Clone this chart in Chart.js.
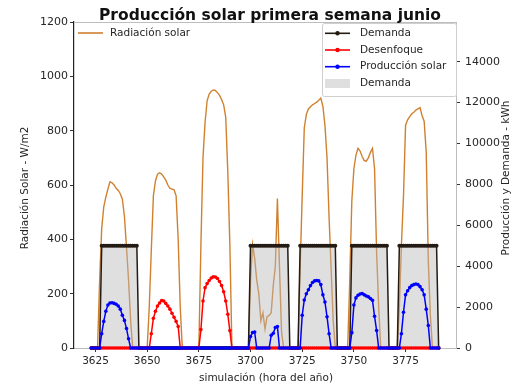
<!DOCTYPE html>
<html lang="es">
<head>
<meta charset="utf-8">
<script src="https://cdn.jsdelivr.net/npm/chart.js@4.4.1/dist/chart.umd.min.js"></script>
<style>
  html, body { margin: 0; padding: 0; background: #ffffff; }
  #wrap { width: 513px; height: 391px; }
</style>
</head>
<body>
<div id="wrap"><canvas id="c" width="513" height="391"></canvas></div>
<script>
// First simulated hour of the week (hour of the year)
const startHour = 3623;

// Solar radiation, W/m2 (one row per day, 24 hourly values)
const radiation = [0,
  0,0,0,250,440,520,555,585,612,608,600,588,580,568,548,484,370,250,100,0,0,0,0,0,
  0,0,0,150,360,560,615,640,645,640,630,618,600,588,585,582,560,400,150,0,0,0,0,0,
  0,0,0,0,380,700,830,910,935,945,950,948,940,930,915,895,850,650,380,0,0,0,0,0,
  0,0,0,0,250,380,330,250,200,100,130,70,115,120,130,230,300,550,300,60,0,0,0,0,
  0,0,0,0,300,560,810,860,880,888,895,900,905,912,920,890,820,700,480,290,100,0,0,0,
  0,0,0,0,250,540,660,710,735,725,705,690,688,700,720,735,660,350,150,0,0,0,0,0,
  0,0,0,0,150,380,560,820,840,852,862,868,876,880,885,855,835,720,320,120,0,0,0,0
];

// Solar production delivered to demand, kWh
const production = [0,
  0,0,0,0,700,1300,1800,2100,2200,2210,2180,2140,2050,1900,1600,1350,950,450,0,0,0,0,0,0,
  0,0,0,0,0,0,0,0,0,0,0,0,0,0,0,0,0,0,0,0,0,0,0,0,
  0,0,0,0,0,0,0,0,0,0,0,0,0,0,0,0,0,0,0,0,0,0,0,0,
  0,0,0,0,560,760,780,0,0,0,0,0,0,0,620,720,1000,1050,0,0,0,0,0,0,
  0,0,0,0,0,1600,2350,2650,2850,3050,3200,3280,3300,3280,3100,2600,2250,1530,700,0,0,0,0,0,
  0,0,0,0,0,750,2100,2450,2580,2640,2660,2600,2540,2500,2420,2330,1550,850,0,0,0,0,0,0,
  0,0,0,0,0,700,1750,2600,2800,2950,3050,3100,3130,3100,3000,2850,2600,1900,1100,0,0,0,0,0
];

// Defocused (unused) production, kWh
const defocus = [0,
  0,0,0,0,0,0,0,0,0,0,0,0,0,0,0,0,0,0,0,0,0,0,0,0,
  0,0,0,0,700,1450,1800,2050,2200,2320,2300,2180,2050,1900,1700,1500,1300,1050,0,0,0,0,0,0,
  0,0,0,0,900,2300,2950,3150,3300,3420,3480,3470,3400,3250,3050,2750,2300,1650,850,0,0,0,0,0,
  0,0,0,0,0,0,0,0,0,0,0,0,0,0,0,0,0,0,0,0,0,0,0,0,
  0,0,0,0,0,0,0,0,0,0,0,0,0,0,0,0,0,0,0,0,0,0,0,0,
  0,0,0,0,0,0,0,0,0,0,0,0,0,0,0,0,0,0,0,0,0,0,0,0,
  0,0,0,0,0,0,0,0,0,0,0,0,0,0,0,0,0,0,0,0,0,0,0,0
];

// Demand, kWh
const demand = [0,
  0,0,0,0,5000,5000,5000,5000,5000,5000,5000,5000,5000,5000,5000,5000,5000,5000,5000,5000,5000,5000,0,0,
  0,0,0,0,0,0,0,0,0,0,0,0,0,0,0,0,0,0,0,0,0,0,0,0,
  0,0,0,0,0,0,0,0,0,0,0,0,0,0,0,0,0,0,0,0,0,0,0,0,
  0,0,0,0,5000,5000,5000,5000,5000,5000,5000,5000,5000,5000,5000,5000,5000,5000,5000,5000,5000,5000,5000,0,
  0,0,0,0,5000,5000,5000,5000,5000,5000,5000,5000,5000,5000,5000,5000,5000,5000,5000,5000,5000,5000,0,0,
  0,0,0,0,0,5000,5000,5000,5000,5000,5000,5000,5000,5000,5000,5000,5000,5000,5000,5000,5000,5000,5000,0,
  0,0,0,0,5000,5000,5000,5000,5000,5000,5000,5000,5000,5000,5000,5000,5000,5000,5000,5000,5000,5000,5000,0
];

// Tick labels
const hourTicks = [3625, 3650, 3675, 3700, 3725, 3750, 3775];
const radiationTicks = [0, 200, 400, 600, 800, 1000, 1200];
const energyTicks = [0, 2000, 4000, 6000, 8000, 10000, 12000, 14000];

const FONT = "'DejaVu Sans', 'Liberation Sans', sans-serif";
const TEXT = '#262626';
const LIGHT_SPINE = '#bdbdbd';
const C_RAD = '#d0812f', C_DEM = '#241c14', C_DEF = '#ff0000', C_PROD = '#0000ff';
const C_FILL = 'rgba(185,185,185,0.45)';

const hours = radiation.map((_, i) => startHour + i);
const toXY = arr => arr.map((v, i) => ({ x: hours[i], y: v }));

// Titles, spines and both legends
const decorations = {
  id: 'decorations',
  afterDraw(chart) {
    const { ctx, chartArea: a } = chart;
    ctx.save();
    // top spine
    ctx.strokeStyle = LIGHT_SPINE; ctx.lineWidth = 1;
    ctx.beginPath(); ctx.moveTo(a.left, a.top + 0.5); ctx.lineTo(a.right, a.top + 0.5); ctx.stroke();

    ctx.fillStyle = '#111';
    ctx.font = `bold 15.5px ${FONT}`;
    ctx.textAlign = 'center'; ctx.textBaseline = 'alphabetic';
    ctx.fillText('Producción solar primera semana junio', 270, 20);

    ctx.fillStyle = TEXT;
    ctx.font = `10.5px ${FONT}`;
    ctx.textBaseline = 'middle';
    ctx.fillText('simulación (hora del año)', 266, 378);

    ctx.save(); ctx.translate(25, 188); ctx.rotate(-Math.PI / 2);
    ctx.fillText('Radiación Solar - W/m2', 0, 0); ctx.restore();
    ctx.save(); ctx.translate(506, 178); ctx.rotate(-Math.PI / 2);
    ctx.fillText('Producción y Demanda - kWh', 0, 0); ctx.restore();

    // left legend
    ctx.textAlign = 'left';
    ctx.strokeStyle = C_RAD; ctx.lineWidth = 1.6;
    ctx.beginPath(); ctx.moveTo(78, 33); ctx.lineTo(103, 33); ctx.stroke();
    ctx.fillStyle = TEXT;
    ctx.fillText('Radiación solar', 110, 33);

    // right legend
    const bx = 322.5, by = 23.5, bw = 134, bh = 73;
    ctx.fillStyle = 'rgba(255,255,255,0.85)';
    ctx.strokeStyle = '#cfcfcf'; ctx.lineWidth = 1;
    ctx.beginPath(); ctx.roundRect(bx, by, bw, bh, 2); ctx.fill(); ctx.stroke();
    const rows = [
      { y: 33.3, color: C_DEM, text: 'Demanda' },
      { y: 50, color: C_DEF, text: 'Desenfoque' },
      { y: 66.7, color: C_PROD, text: 'Producción solar' }
    ];
    rows.forEach(r => {
      ctx.strokeStyle = r.color; ctx.lineWidth = 1.6;
      ctx.beginPath(); ctx.moveTo(325, r.y); ctx.lineTo(350, r.y); ctx.stroke();
      ctx.fillStyle = r.color;
      ctx.beginPath(); ctx.arc(337.5, r.y, 2.2, 0, Math.PI * 2); ctx.fill();
      ctx.fillStyle = TEXT;
      ctx.fillText(r.text, 360, r.y);
    });
    ctx.fillStyle = C_FILL;
    ctx.fillRect(325, 79, 25, 9);
    ctx.fillStyle = TEXT;
    ctx.fillText('Demanda', 360, 83.3);
    ctx.restore();
  }
};

const tickFont = size => ({ family: FONT, size });

new Chart(document.getElementById('c'), {
  type: 'line',
  data: {
    datasets: [
      { label: 'Radiación solar', data: toXY(radiation), yAxisID: 'yRad',
        borderColor: C_RAD, borderWidth: 1.4, pointRadius: 0, fill: false, order: 5 },
      { label: 'Demanda', data: toXY(demand), yAxisID: 'yKwh',
        borderColor: 'transparent', borderWidth: 0, backgroundColor: C_FILL,
        fill: 'origin', pointRadius: 0, order: 4 },
      { label: 'Demanda', data: toXY(demand), yAxisID: 'yKwh',
        borderColor: C_DEM, borderWidth: 1.5, pointRadius: 2, pointBorderWidth: 0,
        pointBackgroundColor: C_DEM, fill: false, order: 3, clip: 4 },
      { label: 'Desenfoque', data: toXY(defocus), yAxisID: 'yKwh',
        borderColor: C_DEF, borderWidth: 1.5, pointRadius: 1.8, pointBorderWidth: 0,
        pointBackgroundColor: C_DEF, fill: false, order: 2, clip: 4 },
      { label: 'Producción solar', data: toXY(production), yAxisID: 'yKwh',
        borderColor: C_PROD, borderWidth: 1.5, pointRadius: 1.8, pointBorderWidth: 0,
        pointBackgroundColor: C_PROD, fill: false, order: 1, clip: 4 }
    ]
  },
  options: {
    responsive: false,
    animation: false,
    devicePixelRatio: 1,
    layout: { padding: { top: 22, left: 0, right: 0, bottom: 0 } },
    plugins: { legend: { display: false }, tooltip: { enabled: false }, title: { display: false } },
    elements: { line: { tension: 0 } },
    scales: {
      x: {
        type: 'linear', position: 'bottom', min: 3614.6, max: 3799.4,
        afterBuildTicks: s => { s.ticks = hourTicks.map(v => ({ value: v })); },
        afterFit: s => { s.height = 43; },
        grid: { drawOnChartArea: false, drawTicks: true, tickLength: 4, tickColor: '#333', color: '#333' },
        border: { display: true, color: LIGHT_SPINE, width: 1 },
        ticks: { font: tickFont(10.5), color: TEXT, padding: 3, maxRotation: 0, autoSkip: false,
                 callback: v => String(v) }
      },
      yRad: {
        type: 'linear', position: 'left', min: 0, max: 1200,
        afterBuildTicks: s => { s.ticks = radiationTicks.map(v => ({ value: v })); },
        afterFit: s => { s.width = 74; },
        grid: { drawOnChartArea: false, drawTicks: true, tickLength: 4, tickColor: '#333', color: '#333' },
        border: { display: true, color: '#222', width: 1.2 },
        ticks: { font: tickFont(11), color: TEXT, padding: 2, callback: v => String(v) }
      },
      yKwh: {
        type: 'linear', position: 'right', min: 0, max: 15940,
        afterBuildTicks: s => { s.ticks = energyTicks.map(v => ({ value: v })); },
        afterFit: s => { s.width = 57; },
        grid: { drawOnChartArea: false, drawTicks: true, tickLength: 4, tickColor: '#333', color: '#333' },
        border: { display: true, color: LIGHT_SPINE, width: 1 },
        ticks: { font: tickFont(11), color: TEXT, padding: 5, callback: v => String(v) }
      }
    }
  },
  plugins: [decorations]
});
</script>
</body>
</html>
